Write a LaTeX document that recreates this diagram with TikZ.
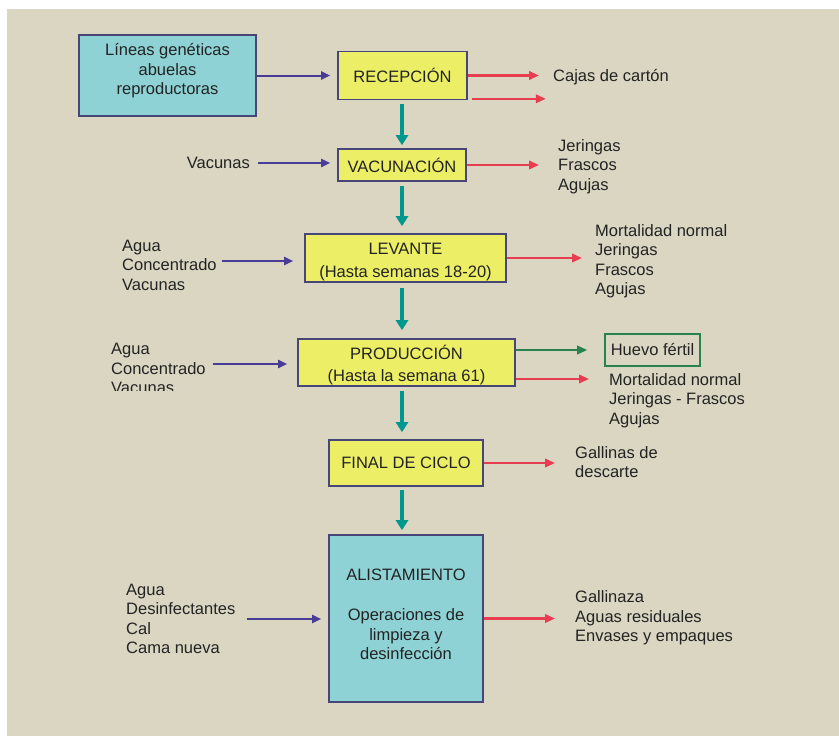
\documentclass[tikz,border=0pt]{standalone}
\usepackage{fontspec}
\setmainfont{Liberation Sans}
\usetikzlibrary{arrows.meta}

\definecolor{paper}{RGB}{218,214,194}
\definecolor{stagefill}{RGB}{236,238,102}
\definecolor{aquafill}{RGB}{142,210,214}
\definecolor{boxline}{RGB}{72,70,120}
\definecolor{inflow}{RGB}{72,60,150}
\definecolor{outflow}{RGB}{232,60,80}
\definecolor{mainflow}{RGB}{0,152,142}
\definecolor{goodflow}{RGB}{40,130,75}
\definecolor{ink}{RGB}{35,35,35}

\begin{document}
\begin{tikzpicture}[x=1pt,y=-1pt,
  every node/.style={font=\fontsize{16.5}{19.5}\selectfont, text=ink, inner sep=0pt},
  stage/.style={draw=boxline, line width=1.6pt, fill=stagefill, align=center},
  aqua/.style={draw=boxline, line width=1.6pt, fill=aquafill},
  list/.style={align=left, anchor=west},
  input/.style={draw=inflow, line width=2pt, -{Triangle[length=9pt,width=8pt]}},
  waste/.style={draw=outflow, line width=2.2pt, -{Triangle[length=10pt,width=8.5pt]}},
  product/.style={draw=goodflow, line width=2pt, -{Triangle[length=10pt,width=8.5pt]}},
  flow/.style={draw=mainflow, line width=4.5pt, -{Triangle[length=10pt,width=12pt]}}
]
\useasboundingbox (0,0) rectangle (839,736);
\fill[paper] (7,9) rectangle (839,736);

% main process column
\node[aqua, minimum width=177pt, minimum height=81pt] (lin) at (167.5,75.5) {};
\node[align=center] (lin-text) at (167.5,71) {Líneas genéticas\\abuelas\\reproductoras};
\node[stage, minimum width=129pt, minimum height=48pt] (rec) at (402.5,75.5) {RECEPCIÓN};
\node[stage, minimum width=128pt, minimum height=32pt] (vac) at (402,165) {VACUNACIÓN};
\node[stage, minimum width=201pt, minimum height=48pt] (lev) at (405.5,258) {};
\node[align=center] (lev-text) at (405.5,262) {LEVANTE\\[4pt](Hasta semanas 18-20)};
\node[stage, minimum width=217pt, minimum height=47pt] (pro) at (406.5,362.5) {};
\node[align=center] (pro-text) at (406.5,365.5) {PRODUCCIÓN\\[2.5pt](Hasta la semana 61)};
\node[stage, minimum width=154pt, minimum height=46pt] (fin) at (406,463) {FINAL DE CICLO};
\node[aqua, minimum width=154pt, minimum height=167pt] (ali) at (406,618.5) {};
\node[align=center] (ali-text) at (406,614.5) {ALISTAMIENTO\\[21pt]Operaciones de\\limpieza y\\desinfección};

% inputs
\node[list, anchor=east] (vac-in) at (250,163) {Vacunas};
\node[list] (lev-in) at (122,265) {Agua\\Concentrado\\Vacunas};
\begin{scope}
  \clip (0,0) rectangle (300,390.5);
  \node[list] (pro-in) at (111,368.5) {Agua\\Concentrado\\Vacunas};
\end{scope}
\node[list] (ali-in) at (126,619) {Agua\\Desinfectantes\\Cal\\Cama nueva};

% outputs
\node[list] (cajas) at (553,77) {Cajas de cartón};
\node[list] (vac-out) at (558,166.5) {Jeringas\\Frascos\\Agujas};
\node[list] (lev-out) at (595,261) {Mortalidad normal\\Jeringas\\Frascos\\Agujas};
\node[draw=goodflow, line width=1.6pt, minimum width=95pt, minimum height=32pt] (egg) at (652.5,350) {Huevo fértil};
\node[list, anchor=north west] (pro-out) at (609,373) {Mortalidad normal\\Jeringas - Frascos\\Agujas};
\node[list] (fin-out) at (575,462) {Gallinas de\\descarte};
\node[list] (ali-out) at (575,618) {Gallinaza\\Aguas residuales\\Envases y empaques};

% main flow
\coordinate (spine) at (402,0);
\draw[flow, shorten <=4pt, shorten >=3pt] (spine |- rec.south) -- (spine |- vac.north);
\draw[flow, shorten <=4pt, shorten >=7pt] (spine |- vac.south) -- (spine |- lev.north);
\draw[flow, shorten <=5pt, shorten >=8pt] (spine |- lev.south) -- (spine |- pro.north);
\draw[flow, shorten <=4pt, shorten >=7pt] (spine |- pro.south) -- (spine |- fin.north);
\draw[flow, shorten <=3pt, shorten >=4pt] (spine |- fin.south) -- (spine |- ali.north);

% input arrows
\coordinate (lev-in-tip) at ([yshift=4pt]lev-in.east);
\coordinate (pro-in-tip) at ([yshift=4.5pt]pro-in.east);
\draw[input, shorten >=7pt] (lin.east) -- (rec.west);
\draw[input, shorten <=8pt, shorten >=7pt] (vac-in.east) -- (vac-in.east -| vac.west);
\draw[input, shorten <=5pt, shorten >=11pt] (lev-in-tip) -- (lev-in-tip -| lev.west);
\draw[input, shorten <=7pt, shorten >=10pt] (pro-in-tip) -- (pro-in-tip -| pro.west);
\draw[input, shorten <=11pt, shorten >=7pt] (ali-in.east) -- (ali-in.east -| ali.west);

% output arrows
\coordinate (rec-spare) at ([xshift=78pt,yshift=1.5pt]rec.south east);
\coordinate (pro-low) at ([yshift=-16.5pt]pro.east);
\draw[waste, shorten >=14pt] (rec.east) -- (rec.east -| cajas.west);
\draw[waste] ([xshift=4pt,yshift=1.5pt]rec.south east) -- (rec-spare);
\draw[waste, shorten >=19pt] (vac.east) -- (vac.east -| vac-out.west);
\draw[waste, shorten >=13pt] (lev.east) -- (lev.east -| lev-out.west);
\draw[product, shorten >=17pt] (pro.east |- egg) -- (egg.west);
\draw[waste, shorten >=20pt] (pro-low) -- (pro-low -| pro-out.west);
\draw[waste, shorten >=20pt] (fin.east) -- (fin.east -| fin-out.west);
\draw[waste, shorten >=20pt] (ali.east) -- (ali.east -| ali-out.west);
\end{tikzpicture}
\end{document}
